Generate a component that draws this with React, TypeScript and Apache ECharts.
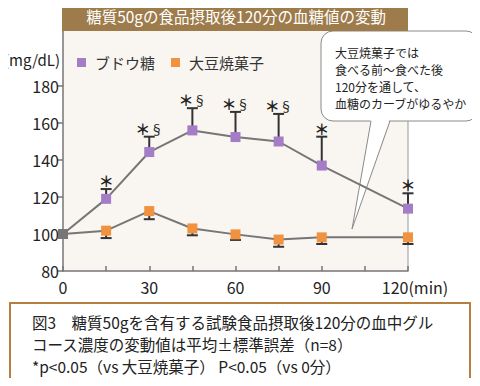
import React, { useEffect, useRef } from "react";
import * as echarts from "echarts";

const FONT = "'Noto Sans CJK JP', 'Noto Sans', sans-serif";

const title = "糖質50gの食品摂取後120分の血糖値の変動";
const unitLabel = "(mg/dL)";
const seriesNames = ["ブドウ糖", "大豆焼菓子"];
const minutes = [0, 15, 30, 45, 60, 75, 90, 120];
const glucose = [100, 119, 144.3, 156, 152.4, 150, 137, 113.7];
const soy = [100, 101.8, 112.4, 103, 99.8, 97, 98.2, 98.2];
const errMinutes = [15, 30, 45, 60, 75, 90, 120];
const glucoseUpper = [124.3, 152.6, 168, 166, 164.9, 152.6, 122];
const soyLower = [97.8, 108, 99.3, 96.8, 93.1, 94.6, 94.6];
const marks = ["＊", "＊§", "＊§", "＊§", "＊§", "＊", "＊"];
const yTicks = [80, 100, 120, 140, 160, 180];
const xLabels = [0, 30, 60, 90, 120];
const calloutLines = [
  "大豆焼菓子では",
  "食べる前～食べた後",
  "120分を通して、",
  "血糖のカーブがゆるやか",
];
const captionLines = [
  "図3　糖質50gを含有する試験食品摂取後120分の血中グル",
  "コース濃度の変動値は平均±標準誤差（n=8）",
  "*p<0.05（vs 大豆焼菓子） P<0.05（vs 0分）",
];

const PURPLE = "#a57cc6";
const ORANGE = "#f0923f";
const GREY = "#767676";

export default function App() {
  const ref = useRef<HTMLDivElement>(null);
  useEffect(() => {
    if (!ref.current) return;
    const chart = echarts.init(ref.current, undefined, { renderer: "svg" });

    const lineData = (vals: number[]) =>
      minutes.map((m, i) =>
        i === 0
          ? { value: [m, vals[i]], itemStyle: { color: GREY } }
          : { value: [m, vals[i]] }
      );

    const errSeries = (vals: number[], ends: number[], withMarks: boolean) => ({
      type: "custom",
      z: 1,
      silent: true,
      encode: { x: 0, y: [1, 2] },
      data: errMinutes.map((m, i) => [m, vals[i + 1], ends[i]]),
      renderItem: (params: any, api: any) => {
        const p0 = api.coord([api.value(0), api.value(1)]);
        const p1 = api.coord([api.value(0), api.value(2)]);
        const children: any[] = [
          {
            type: "line",
            shape: { x1: p0[0], y1: p0[1], x2: p1[0], y2: p1[1] },
            style: { stroke: "#333", lineWidth: 2 },
          },
          {
            type: "line",
            shape: { x1: p1[0] - 5.5, y1: p1[1], x2: p1[0] + 5.5, y2: p1[1] },
            style: { stroke: "#333", lineWidth: 2 },
          },
        ];
        if (withMarks) {
          const m = marks[params.dataIndex];
          const star = m.charAt(0);
          const rest = m.slice(1);
          children.push({
            type: "text",
            x: p1[0],
            y: p1[1] - 1,
            style: {
              text: rest ? `{s|${star}}{t|${rest}}` : `{s|${star}}`,
              rich: {
                s: { font: `bold 15px ${FONT}`, fill: "#222" },
                t: { font: `13px ${FONT}`, fill: "#222" },
              },
              align: "center",
              verticalAlign: "bottom",
            },
          });
        }
        return { type: "group", children };
      },
    });

    const tail = [
      [371, 118],
      [390, 118],
      [352, 229],
    ];

    chart.setOption({
      animation: false,
      textStyle: { fontFamily: FONT },
      grid: { left: 63, right: 72, top: 86, bottom: 115 },
      legend: {
        data: seriesNames.map((n, i) => ({
          name: n,
          itemStyle: { color: i === 0 ? PURPLE : ORANGE },
        })),
        icon: "rect",
        itemWidth: 9,
        itemHeight: 9,
        itemGap: 16,
        left: 72,
        top: 50,
        textStyle: { fontSize: 15, color: "#333", fontFamily: FONT, padding: [0, 0, 0, 4] },
      },
      xAxis: {
        type: "value",
        min: 0,
        max: 120,
        interval: 15,
        splitLine: { show: false },
        axisLine: { lineStyle: { color: GREY, width: 1.5 } },
        axisTick: { inside: true, length: 5, lineStyle: { color: GREY, width: 1.5 } },
        axisLabel: {
          margin: 8,
          color: "#222",
          fontSize: 16,
          fontFamily: FONT,
          formatter: (v: number) =>
            xLabels.includes(v) ? (v === 120 ? "{a|120(min)}" : String(v)) : "",
          rich: { a: { fontSize: 16, fontFamily: FONT, color: "#222", padding: [0, 0, 0, 14] } },
        },
      },
      yAxis: {
        type: "value",
        min: 80,
        max: 180,
        interval: 20,
        splitLine: { show: false },
        axisLine: { show: true, lineStyle: { color: GREY, width: 1.5 } },
        axisTick: { show: true, length: 6, lineStyle: { color: GREY, width: 1.5 } },
        axisLabel: {
          margin: 4,
          color: "#222",
          fontSize: 16,
          fontFamily: FONT,
          formatter: (v: number) => (yTicks.includes(v) ? String(v) : ""),
        },
      },
      graphic: [
        { type: "rect", z: -10, shape: { x: 63, y: 31, width: 345, height: 240 }, style: { fill: "#f9f6f1" } },
        { type: "line", z: -9, shape: { x1: 63, y1: 31, x2: 63, y2: 86 }, style: { stroke: GREY, lineWidth: 1.5 } },
        { type: "line", z: -9, shape: { x1: 408, y1: 31, x2: 408, y2: 271 }, style: { stroke: "#999", lineWidth: 1 } },
        {
          type: "text",
          x: 4,
          y: 59,
          style: { text: unitLabel, fill: "#222", font: `15px ${FONT}`, align: "left", verticalAlign: "middle" },
        },
        { type: "rect", z: 5, shape: { x: 62, y: 0, width: 346, height: 31 }, style: { fill: "#9d7b4b" } },
        {
          type: "text",
          z: 6,
          x: 236,
          y: 16,
          style: { text: title, fill: "#fff", font: `15.5px ${FONT}`, align: "center", verticalAlign: "middle" },
        },
        {
          type: "rect",
          z: 0,
          shape: { x: 321, y: 31, width: 157, height: 90, r: 12 },
          style: { fill: "#fff", stroke: "#8a8a8a", lineWidth: 1 },
        },
        { type: "polygon", z: 0, shape: { points: tail }, style: { fill: "#fff" } },
        {
          type: "polyline",
          z: 0,
          shape: { points: [[371, 121], [352, 229], [390, 121]] },
          style: { stroke: "#8a8a8a", lineWidth: 1, fill: "none" },
        },
        ...calloutLines.map((t, i) => ({
          type: "text",
          z: 1,
          x: 335,
          y: 52 + i * 17,
          style: { text: t, fill: "#222", font: `12px ${FONT}`, verticalAlign: "middle" },
        })),
        {
          type: "rect",
          shape: { x: 10, y: 303, width: 460, height: 79 },
          style: { fill: "#fff", stroke: "#b5803f", lineWidth: 2 },
        },
        ...captionLines.map((t, i) => ({
          type: "text",
          x: 32,
          y: 322 + i * 22,
          style: { text: t, fill: "#222", font: `15.5px ${FONT}`, verticalAlign: "middle" },
        })),
      ],
      series: [
        errSeries(glucose, glucoseUpper, true),
        errSeries(soy, soyLower, false),
        {
          name: seriesNames[0],
          type: "line",
          z: 3,
          data: lineData(glucose),
          symbol: "rect",
          symbolSize: 10,
          itemStyle: { color: PURPLE },
          lineStyle: { color: GREY, width: 2 },
        },
        {
          name: seriesNames[1],
          type: "line",
          z: 3,
          data: lineData(soy),
          symbol: "rect",
          symbolSize: 10,
          itemStyle: { color: ORANGE },
          lineStyle: { color: GREY, width: 2 },
        },
      ],
    });
    return () => chart.dispose();
  }, []);
  return <div ref={ref} style={{ width: 480, height: 386, margin: -8 }} />;
}
